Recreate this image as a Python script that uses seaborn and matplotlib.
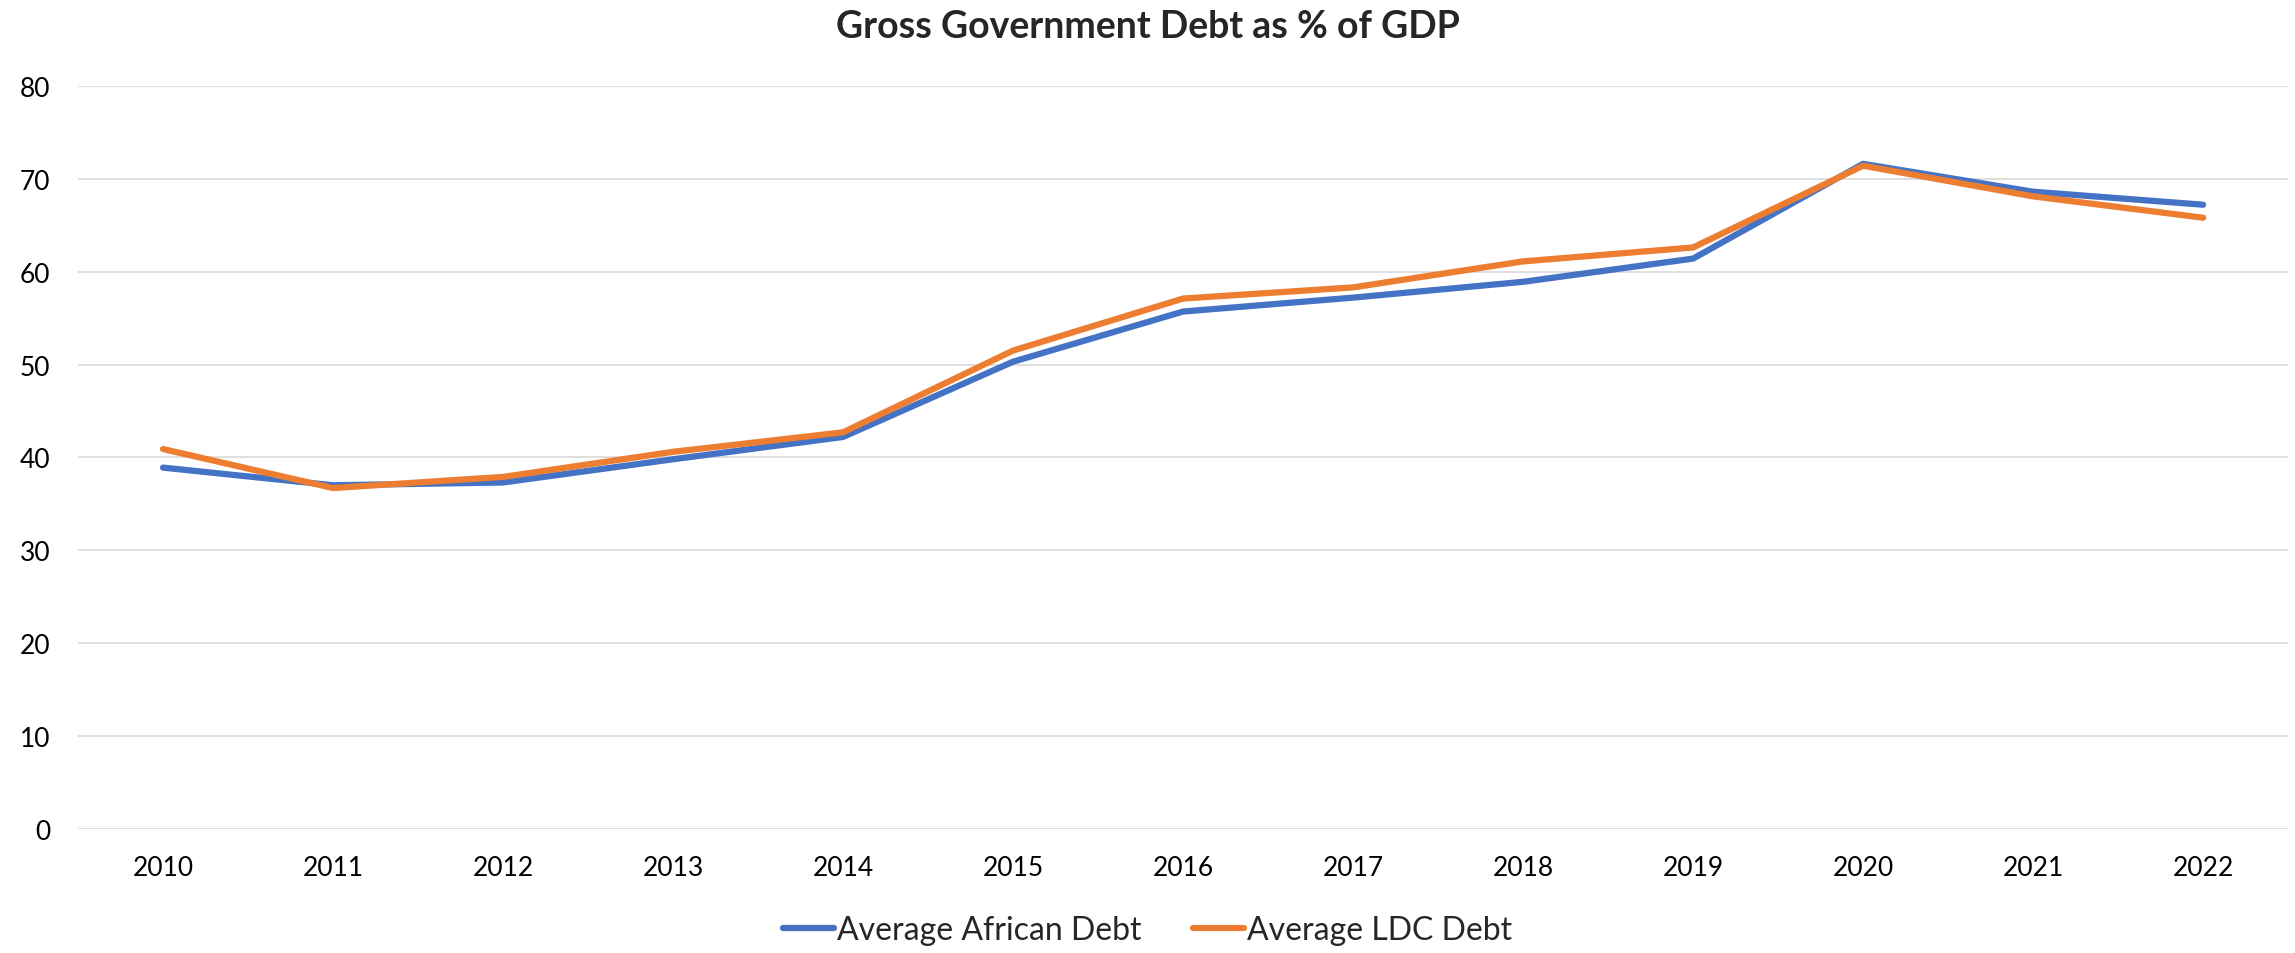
import pandas as pd
import matplotlib.pyplot as plt
import seaborn as sns

years = [2010, 2011, 2012, 2013, 2014, 2015, 2016, 2017, 2018, 2019, 2020, 2021, 2022]
african_debt = [38.9, 37.0, 37.3, 39.8, 42.2, 50.3, 55.7, 57.2, 58.9, 61.4, 71.6, 68.6, 67.2]
ldc_debt = [40.9, 36.7, 37.9, 40.6, 42.7, 51.5, 57.1, 58.3, 61.1, 62.6, 71.4, 68.1, 65.8]
series_names = ["Average African Debt", "Average LDC Debt"]
y_ticks = [0, 10, 20, 30, 40, 50, 60, 70, 80]

df = pd.concat([
    pd.DataFrame({"year": years, "debt": african_debt, "series": series_names[0]}),
    pd.DataFrame({"year": years, "debt": ldc_debt, "series": series_names[1]}),
], ignore_index=True)

sns.set_style("white")
plt.rcParams['font.family'] = ['Lato', 'DejaVu Sans']

fig = plt.figure(figsize=(22.95, 9.54), dpi=100)
ax = fig.add_axes([0.034, 0.130, 0.963, 0.779])

palette = {series_names[0]: "#4472C4", series_names[1]: "#ED7D31"}
sns.lineplot(ax=ax, data=df, x="year", y="debt", hue="series", palette=palette,
             linewidth=4.5, legend=False, zorder=3)

ax.set_ylim(0, 80)
ax.set_xlim(years[0] - 0.5, years[-1] + 0.5)
ax.set_yticks(y_ticks)
ax.set_xticks(years)
ax.set_xticklabels([str(y) for y in years])
ax.grid(axis="y", color="#D9D9D9", linewidth=1.2, zorder=0)
ax.tick_params(axis="both", length=0, labelsize=19, colors="black")
ax.tick_params(axis="y", pad=20)
ax.tick_params(axis="x", pad=19)
ax.set_xlabel("")
ax.set_ylabel("")
for s in ax.spines.values():
    s.set_visible(False)

# title is centred on the whole figure, not on the axes
fig.suptitle("Gross Government Debt as % of GDP", x=0.5, y=0.972, va="center",
             fontsize=27, fontweight="bold")

handles = [plt.Line2D([], [], color=palette[n], linewidth=4.5) for n in series_names]
fig.legend(handles, series_names, loc="center", bbox_to_anchor=(0.5, 0.024), ncol=2,
           frameon=False, fontsize=23, handlelength=1.6, handletextpad=0.1, columnspacing=1.6)

fig.savefig("out.png", dpi=100)
